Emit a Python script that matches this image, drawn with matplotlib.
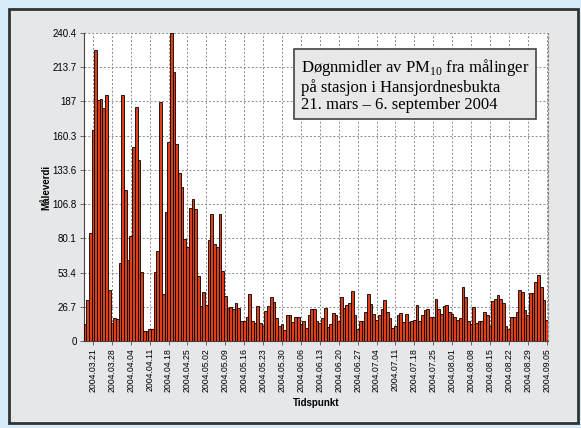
import numpy as np
import pandas as pd
import matplotlib
matplotlib.use("Agg")
from matplotlib import pyplot as plt
from matplotlib.patches import Rectangle

# daily PM10 means, 2004-03-18 .. 2004-09-05
start_date = "2004-03-18"
pm10 = [
    13, 32, 84, 165, 227, 188, 189, 182, 192, 40,
    14, 18, 17.5, 61, 192, 118, 63, 82, 151.5, 183,
    141.6, 54, 8, 8, 9.4, 9.4, 54, 70.5, 186.6, 37,
    101, 155, 240.4, 210, 154, 131, 120, 80, 73.4, 104,
    110.5, 102.7, 51, 27, 38, 28, 79, 99, 76, 73,
    99, 55, 35, 26, 26.5, 25, 29.5, 26, 16, 16,
    19, 36.5, 16, 14, 27.7, 14, 11.5, 23.5, 27, 34,
    30.5, 18, 11.5, 13, 8.6, 20, 20, 15, 19, 18.8,
    13, 16, 10, 20, 25, 25, 15.6, 14, 18, 26,
    11, 13.5, 22, 20, 16, 34.6, 26, 28, 30, 39,
    20, 9.6, 16, 16, 23, 36.4, 29, 21, 16.6, 20,
    24.7, 31.7, 23, 18, 10, 11.4, 20, 22, 15, 21,
    15, 15.6, 16.6, 28, 15.6, 20, 24, 25, 18.7, 19,
    32.5, 25, 21, 27, 28, 23, 21, 19, 16.6, 18,
    42, 34, 16, 13, 26.5, 13.8, 15.6, 16, 22.6, 20,
    11.4, 31, 32.5, 35.6, 33, 30, 11.4, 9.6, 18.7, 18.7,
    23, 40, 38.5, 24, 20, 37.7, 37.4, 46, 51.5, 42,
    32, 16.4,
]
y_ticks = [0, 26.7, 53.4, 80.1, 106.8, 133.6, 160.3, 187, 213.7, 240.4]
y_ticklabels = ["0", "26.7", "53.4", "80.1", "106.8", "133.6", "160.3", "187", "213.7", "240.4"]

dates = pd.date_range(start_date, periods=len(pm10), freq="D")
tick_idx = list(range(3, len(pm10), 7))
tick_labels = [dates[i].strftime("%Y.%m.%d") for i in tick_idx]

plt.rcParams["font.family"] = ["Liberation Sans", "DejaVu Sans"]
plt.rcParams["mathtext.fontset"] = "custom"
plt.rcParams["mathtext.rm"] = "Liberation Serif"

fig = plt.figure(figsize=(5.81, 4.28), dpi=100)
fig.patch.set_facecolor("#d6ecfa")
panel = Rectangle((9 / 581, 5 / 428), 569 / 581, 414 / 428,
                  transform=fig.transFigure, facecolor="#e5e7e9",
                  edgecolor="#333333", linewidth=2, zorder=-5)
fig.add_artist(panel)

ax = fig.add_axes([83.5 / 581, 1 - 341 / 428, (548 - 83.5) / 581, (341 - 33) / 428])
ax.set_facecolor("white")

x = np.arange(len(pm10))
ax.bar(x, pm10, width=1.0, color="#df3e1b", edgecolor="black", linewidth=0.6, zorder=3)

ax.set_xlim(-0.5, len(pm10) - 0.5)
ax.set_ylim(0, 240.4)
ax.set_yticks(y_ticks)
ax.set_yticklabels(y_ticklabels)
ax.set_xticks(tick_idx)
ax.set_xticklabels(tick_labels, rotation=90)
ax.tick_params(axis="both", length=3, width=0.6, color="#555555", pad=2)
ax.tick_params(axis="y", labelsize=7)
ax.tick_params(axis="x", labelsize=6.3)

ax.grid(True, linestyle=(0, (2, 2)), color="#8a8a8a", linewidth=0.7, zorder=1)
ax.set_axisbelow(True)
ax.spines["top"].set_visible(False)
ax.spines["right"].set_linestyle((0, (2, 2)))
ax.spines["right"].set_color("#8a8a8a")
ax.spines["left"].set_color("#444444")
ax.spines["bottom"].set_color("#444444")

ax.set_ylabel("Måleverdi", fontsize=7, fontweight="bold", labelpad=1)
ax.set_xlabel("Tidspunkt", fontsize=7, fontweight="bold", labelpad=4)

ax.text(301 / 581, 1 - 85 / 428,
        "Døgnmidler av PM$_{10}$ fra målinger\npå stasjon i Hansjordnesbukta\n21. mars – 6. september 2004",
        transform=fig.transFigure, family=["Liberation Serif", "DejaVu Serif"], fontsize=12,
        va="center", ha="left", linespacing=1.07, zorder=5,
        bbox=dict(boxstyle="square,pad=0.4", facecolor="#e8e8e8", edgecolor="#444444", linewidth=1.2))

fig.savefig("out.png", dpi=100, facecolor=fig.get_facecolor())
